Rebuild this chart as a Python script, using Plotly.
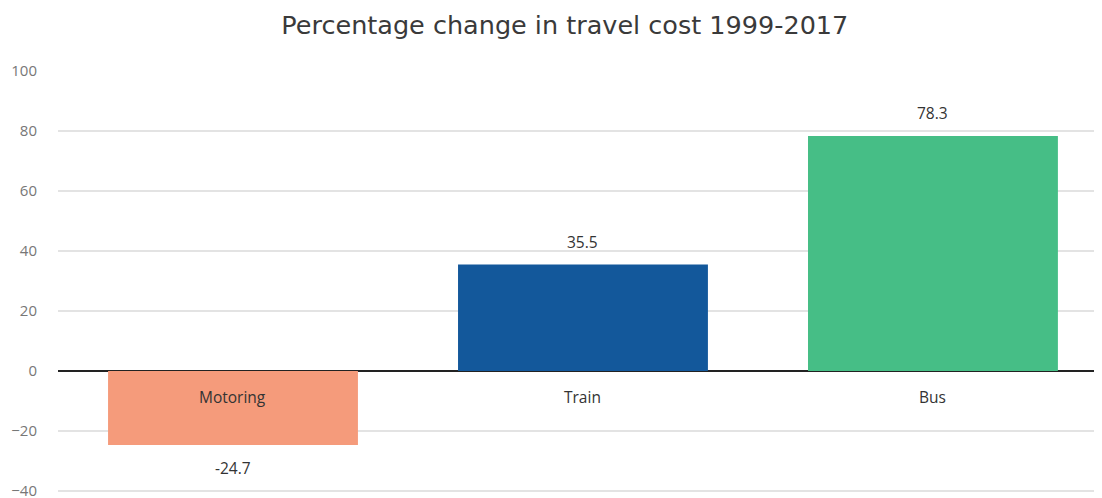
import plotly.graph_objects as go

categories = ["Motoring", "Train", "Bus"]
values = [-24.7, 35.5, 78.3]
colors = ["#F59B7B", "#13589B", "#46BE86"]
title_text = "Percentage change in travel cost 1999-2017"
y_ticks = [-40, -20, 0, 20, 40, 60, 80, 100]

FONT = "'Open Sans', Lato, sans-serif"
TITLE_FONT = "'DejaVu Sans', 'Open Sans', sans-serif"

fig = go.Figure()
fig.add_trace(go.Bar(
    x=categories, y=values,
    marker=dict(color=colors, line=dict(width=0)),
    showlegend=False,
    hoverinfo="x+y",
))

for c, v in zip(categories, values):
    # value label
    fig.add_annotation(x=c, y=v, text=f"{v:.1f}", showarrow=False,
                       yshift=23 if v >= 0 else -23,
                       font=dict(family=FONT, size=15.5, color="#333333"))
    # category label
    fig.add_annotation(x=c, y=0, text=c, showarrow=False, yshift=-26,
                       font=dict(family=FONT, size=15.5, color="#333333"))

fig.update_layout(
    width=1094, height=490,
    margin=dict(l=50, r=0, t=63, b=1),
    paper_bgcolor="white", plot_bgcolor="white",
    bargap=0.286,
    title=dict(text=title_text, x=0.509, xanchor="center", y=0.965, yanchor="middle",
               xref="container", yref="container",
               font=dict(family=TITLE_FONT, size=25.5, color="#3A3A3A")),
    xaxis=dict(range=[-0.5, 2.483], showticklabels=False, showgrid=False,
               zeroline=False, showline=False, ticks="", automargin=False),
    yaxis=dict(range=[-42, 100], tickvals=y_ticks, showgrid=True,
               gridcolor="#E3E3E3", gridwidth=1.5, zeroline=True,
               zerolinecolor="#222222", zerolinewidth=2,
               tickfont=dict(family=FONT, size=15, color="#777777"),
               ticklabeloverflow="allow", automargin=False,
               ticks="outside", ticklen=17, tickcolor="rgba(0,0,0,0)"),
)

fig.write_html("out.html")
